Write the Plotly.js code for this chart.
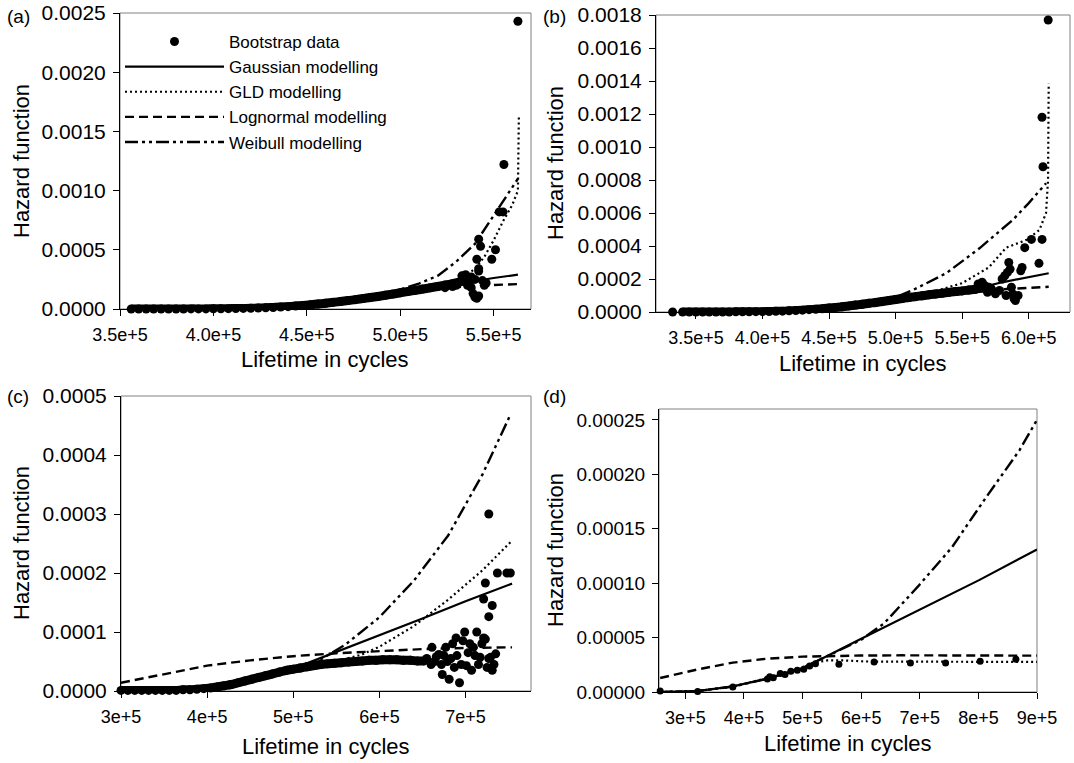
<!DOCTYPE html>
<html><head><meta charset="utf-8">
<script src="https://cdn.plot.ly/plotly-3.0.1.min.js"></script>
<style>html,body{margin:0;padding:0;background:#fff}#chart{width:1074px;height:763px}</style>
</head><body><div id="chart"></div>
<script>
const seriesNames = ["Bootstrap data","Gaussian modelling","GLD modelling","Lognormal modelling","Weibull modelling"];
const panelLabels = ["(a)","(b)","(c)","(d)"];
const xTitle = "Lifetime in cycles";
const yTitle = "Hazard function";

// ---------- Panel (a) ----------
const aBandX = [356e3,360e3,364e3,368e3,372e3,376e3,380e3,384e3,388e3,392e3,396e3,400e3,404e3,408e3,412e3,416e3,420e3,424e3,428e3,432e3,436e3,440e3,444e3,448e3,452e3,456e3,460e3,464e3,468e3,472e3,476e3,480e3,484e3,488e3,492e3,496e3,500e3,504e3,508e3,512e3,516e3,520e3,524e3,528e3,532e3];
const aBandY = [0,0,0,0,0,0,0,0,1e-6,1e-6,1e-6,2e-6,2e-6,3e-6,4e-6,5e-6,6e-6,8e-6,10e-6,13e-6,16e-6,20e-6,25e-6,30e-6,36e-6,42e-6,49e-6,56e-6,63e-6,71e-6,79e-6,88e-6,97e-6,106e-6,116e-6,126e-6,137e-6,147e-6,157e-6,168e-6,179e-6,190e-6,202e-6,214e-6,228e-6];
const aScatX = [524e3,528e3,530e3,533e3,535e3,536e3,537e3,538e3,539e3,540e3,541e3,542e3,536e3,534e3,538e3,540e3,542e3,541e3,542e3,543e3,544e3,545e3,546e3,549e3,551e3,553e3,555e3,555.5e3,563e3,542e3];
const aScatY = [180e-6,190e-6,200e-6,280e-6,290e-6,260e-6,220e-6,180e-6,130e-6,100e-6,90e-6,110e-6,200e-6,250e-6,270e-6,250e-6,320e-6,420e-6,590e-6,530e-6,240e-6,200e-6,220e-6,420e-6,500e-6,820e-6,820e-6,1220e-6,2430e-6,340e-6];
const aGaussX = [356e3,400e3,430e3,450e3,470e3,490e3,500e3,510e3,520e3,530e3,540e3,550e3,563e3];
const aGaussY = [0,2e-6,12e-6,34e-6,67e-6,111e-6,137e-6,162e-6,188e-6,215e-6,240e-6,262e-6,290e-6];
const aGldX = [356e3,400e3,430e3,450e3,470e3,490e3,500e3,510e3,520e3,530e3,535e3,540e3,545e3,550e3,555e3,560e3,563e3,563.5e3];
const aGldY = [0,2e-6,12e-6,34e-6,67e-6,112e-6,145e-6,172e-6,205e-6,245e-6,280e-6,340e-6,440e-6,580e-6,740e-6,880e-6,1000e-6,1630e-6];
const aLogX = [356e3,400e3,430e3,450e3,470e3,490e3,500e3,510e3,520e3,530e3,540e3,550e3,563e3];
const aLogY = [0,2e-6,12e-6,34e-6,67e-6,109e-6,132e-6,152e-6,170e-6,185e-6,196e-6,203e-6,210e-6];
const aWeiX = [356e3,400e3,430e3,450e3,470e3,490e3,500e3,510e3,520e3,530e3,540e3,550e3,556e3,563e3];
const aWeiY = [0,2e-6,12e-6,34e-6,68e-6,125e-6,165e-6,215e-6,280e-6,400e-6,550e-6,790e-6,930e-6,1100e-6];
const aXTickVals = [350e3,400e3,450e3,500e3,550e3];
const aXTickText = ["3.5e+5","4.0e+5","4.5e+5","5.0e+5","5.5e+5"];
const aYTickVals = [0,0.0005,0.001,0.0015,0.002,0.0025];
const aYTickText = ["0.0000","0.0005","0.0010","0.0015","0.0020","0.0025"];

// ---------- Panel (b) ----------
const bBandX = [340e3,345e3,350e3,355e3,360e3,365e3,370e3,375e3,380e3,385e3,390e3,395e3,400e3,405e3,410e3,415e3,420e3,425e3,430e3,435e3,440e3,445e3,450e3,455e3,460e3,465e3,470e3,475e3,480e3,485e3,490e3,495e3,500e3,505e3,510e3,515e3,520e3,525e3,530e3,535e3,540e3,545e3,550e3,555e3,560e3,565e3,570e3];
const bBandY = [0,0,0,0,0,0,0,0,1e-6,1e-6,1e-6,2e-6,2e-6,3e-6,4e-6,5e-6,7e-6,9e-6,11e-6,14e-6,17e-6,20e-6,24e-6,28e-6,32e-6,37e-6,42e-6,47e-6,53e-6,58e-6,64e-6,70e-6,76e-6,82e-6,88e-6,93e-6,99e-6,104e-6,109e-6,114e-6,119e-6,124e-6,128e-6,133e-6,138e-6,145e-6,150e-6];
const bScatX = [332.5e3,562e3,565e3,567e3,569e3,572e3,575e3,578e3,580e3,582e3,583e3,584e3,585e3,586e3,587e3,588e3,589e3,590e3,592e3,594e3,595e3,597e3,602e3,607.7e3,610e3,610.7e3,610e3,614.6e3];
const bScatY = [0,170e-6,180e-6,160e-6,120e-6,140e-6,110e-6,130e-6,200e-6,220e-6,100e-6,240e-6,300e-6,260e-6,150e-6,110e-6,80e-6,70e-6,100e-6,250e-6,270e-6,390e-6,440e-6,295e-6,440e-6,880e-6,1180e-6,1770e-6];
const bGaussX = [340e3,400e3,450e3,500e3,530e3,560e3,580e3,600e3,615e3];
const bGaussY = [0,2e-6,24e-6,76e-6,109e-6,140e-6,180e-6,212e-6,235e-6];
const bGldX = [340e3,400e3,450e3,500e3,525e3,550e3,570e3,583e3,598e3,608e3,613e3,614.5e3,615e3];
const bGldY = [0,2e-6,24e-6,80e-6,115e-6,175e-6,270e-6,390e-6,436e-6,497e-6,600e-6,800e-6,1385e-6];
const bLogX = [340e3,400e3,450e3,500e3,530e3,560e3,580e3,600e3,615e3];
const bLogY = [0,2e-6,24e-6,76e-6,107e-6,128e-6,138e-6,146e-6,153e-6];
const bWeiX = [340e3,400e3,450e3,480e3,498e3,513e3,538e3,563e3,588e3,600e3,613e3];
const bWeiY = [0,2e-6,24e-6,55e-6,83e-6,133e-6,235e-6,386e-6,558e-6,660e-6,780e-6];
const bXTickVals = [350e3,400e3,450e3,500e3,550e3,600e3];
const bXTickText = ["3.5e+5","4.0e+5","4.5e+5","5.0e+5","5.5e+5","6.0e+5"];
const bYTickVals = [0,0.0002,0.0004,0.0006,0.0008,0.001,0.0012,0.0014,0.0016,0.0018];
const bYTickText = ["0.0000","0.0002","0.0004","0.0006","0.0008","0.0010","0.0012","0.0014","0.0016","0.0018"];

// ---------- Panel (c) ----------
const cBandX = [300e3,308e3,316e3,324e3,332e3,340e3,348e3,356e3,364e3,372e3,380e3,388e3,396e3,404e3,412e3,420e3,428e3,436e3,444e3,452e3,460e3,468e3,476e3,484e3,492e3,500e3,508e3,516e3,524e3,532e3,540e3,548e3,556e3,564e3,572e3,580e3,588e3,596e3,604e3,612e3,620e3,628e3,636e3,644e3,652e3];
const cBandY = [1e-6,1e-6,1e-6,1e-6,1e-6,1e-6,1e-6,1e-6,1e-6,2e-6,2e-6,3e-6,4e-6,5e-6,7e-6,9e-6,11e-6,14e-6,17e-6,20e-6,23e-6,26e-6,29e-6,32e-6,35e-6,37e-6,39e-6,41e-6,43e-6,45e-6,46e-6,47e-6,48e-6,49e-6,50e-6,51e-6,52e-6,52e-6,53e-6,53e-6,53e-6,52e-6,52e-6,51e-6,51e-6];
const cScatX = [655e3,660e3,661e3,664e3,666e3,669e3,672e3,673e3,675e3,677e3,679e3,681e3,683e3,685e3,687e3,689e3,690e3,693e3,695e3,697e3,699e3,701e3,703e3,705e3,707e3,709e3,711e3,713e3,715e3,717e3,719e3,721e3,723e3,725e3,727e3,729e3,731e3,733e3,735e3,727e3,723e3,721e3,731e3,727e3,737e3,748e3,752e3];
const cScatY = [55e-6,45e-6,74e-6,50e-6,58e-6,62e-6,45e-6,28e-6,60e-6,74e-6,50e-6,20e-6,55e-6,80e-6,40e-6,90e-6,60e-6,14e-6,45e-6,85e-6,100e-6,43e-6,65e-6,80e-6,35e-6,74e-6,60e-6,100e-6,45e-6,57e-6,80e-6,90e-6,88e-6,40e-6,55e-6,57e-6,35e-6,45e-6,63e-6,300e-6,183e-6,156e-6,145e-6,126e-6,200e-6,200e-6,200e-6];
const cGaussX = [300e3,350e3,400e3,450e3,500e3,550e3,600e3,650e3,700e3,754e3];
const cGaussY = [1e-6,1e-6,5e-6,20e-6,38e-6,66e-6,95e-6,123e-6,152e-6,182e-6];
const cGldX = [300e3,400e3,450e3,500e3,550e3,580e3,600e3,640e3,680e3,720e3,754e3];
const cGldY = [1e-6,5e-6,20e-6,38e-6,50e-6,62e-6,75e-6,110e-6,155e-6,205e-6,255e-6];
const cLogX = [300e3,350e3,400e3,450e3,500e3,550e3,600e3,650e3,700e3,754e3];
const cLogY = [14e-6,29e-6,43e-6,52e-6,59e-6,64e-6,68e-6,71e-6,73e-6,74e-6];
const cWeiX = [300e3,400e3,450e3,500e3,530e3,560e3,600e3,640e3,680e3,720e3,752e3];
const cWeiY = [1e-6,5e-6,20e-6,38e-6,52e-6,78e-6,125e-6,187e-6,264e-6,368e-6,468e-6];
const cXTickVals = [300e3,400e3,500e3,600e3,700e3];
const cXTickText = ["3e+5","4e+5","5e+5","6e+5","7e+5"];
const cYTickVals = [0,0.0001,0.0002,0.0003,0.0004,0.0005];
const cYTickText = ["0.0000","0.0001","0.0002","0.0003","0.0004","0.0005"];

// ---------- Panel (d) ----------
const dDataX = [257e3,321e3,381e3,440e3,444e3,450e3,462e3,470e3,480e3,491e3,502e3,512e3,522e3,562e3,622e3,684e3,744e3,803e3,864e3];
const dDataY = [1e-6,0.5e-6,4.6e-6,12e-6,14e-6,13e-6,17e-6,16e-6,19e-6,20e-6,21e-6,24e-6,26e-6,25.5e-6,27.6e-6,26.7e-6,26.7e-6,28.2e-6,30e-6];
const dGaussX = [257e3,323e3,381e3,438e3,496e3,542e3,600e3,698e3,802e3,900e3];
const dGaussY = [0,1e-6,5.2e-6,12e-6,21e-6,33e-6,49e-6,75e-6,103e-6,131e-6];
const dGldX = [257e3,323e3,381e3,438e3,496e3,520e3,542e3,570e3,611e3,700e3,800e3,900e3];
const dGldY = [0,1e-6,5e-6,12.5e-6,22e-6,27e-6,29e-6,29e-6,28e-6,28e-6,27.7e-6,27.6e-6];
const dLogX = [257e3,323e3,381e3,438e3,500e3,553e3,600e3,670e3,800e3,900e3];
const dLogY = [12.9e-6,21e-6,27e-6,30.5e-6,32.5e-6,33.2e-6,33.5e-6,33.7e-6,33.5e-6,33.4e-6];
const dWeiX = [257e3,323e3,381e3,438e3,496e3,542e3,600e3,639e3,697e3,755e3,812e3,870e3,900e3];
const dWeiY = [0,1e-6,5e-6,12e-6,21e-6,33e-6,48e-6,63e-6,97e-6,133e-6,178e-6,222e-6,250e-6];
const dXTickVals = [300e3,400e3,500e3,600e3,700e3,800e3,900e3];
const dXTickText = ["3e+5","4e+5","5e+5","6e+5","7e+5","8e+5","9e+5"];
const dYTickVals = [0,0.00005,0.0001,0.00015,0.0002,0.00025];
const dYTickText = ["0.00000","0.00005","0.00010","0.00015","0.00020","0.00025"];

// ---------- Build ----------
const W = 1074, H = 763;
const FONT = "Liberation Sans, Arial, Helvetica, sans-serif";
const px = v => v / W;
const py = v => 1 - v / H;

const lineStyles = [
  null,
  {color:'#000', width:2.2, dash:'solid'},
  {color:'#000', width:2.2, dash:'2px,3px'},
  {color:'#000', width:2.4, dash:'9px,5px'},
  {color:'#000', width:2.4, dash:'13px,4px,3px,4px,3px,4px'}
];

const panels = [
  {xa:'x', ya:'y', band:[aBandX, aBandY], pts:[aScatX, aScatY], lines:[[aGaussX,aGaussY],[aGldX,aGldY],[aLogX,aLogY],[aWeiX,aWeiY]], legend:true, msize:9},
  {xa:'x2', ya:'y2', band:[bBandX, bBandY], pts:[bScatX, bScatY], lines:[[bGaussX,bGaussY],[bGldX,bGldY],[bLogX,bLogY],[bWeiX,bWeiY]], legend:false, msize:9},
  {xa:'x3', ya:'y3', band:[cBandX, cBandY], pts:[cScatX, cScatY], lines:[[cGaussX,cGaussY],[cGldX,cGldY],[cLogX,cLogY],[cWeiX,cWeiY]], legend:false, msize:9},
  {xa:'x4', ya:'y4', band:null, pts:[dDataX, dDataY], lines:[[dGaussX,dGaussY],[dGldX,dGldY],[dLogX,dLogY],[dWeiX,dWeiY]], legend:false, msize:7}
];

const traces = [];
panels.forEach(p => {
  p.lines.forEach((ln, i) => {
    traces.push({type:'scatter', mode:'lines', x:ln[0], y:ln[1], xaxis:p.xa, yaxis:p.ya,
      name:seriesNames[i+1], showlegend:p.legend, legendrank:i+2, line:lineStyles[i+1], cliponaxis:false, hoverinfo:'skip'});
  });
  if (p.band) {
    traces.push({type:'scatter', mode:'lines+markers', x:p.band[0], y:p.band[1], xaxis:p.xa, yaxis:p.ya,
      name:seriesNames[0], showlegend:false, line:{color:'#000', width:p.msize, shape:'spline'},
      marker:{color:'#000', size:p.msize}, cliponaxis:false, hoverinfo:'skip'});
  }
  traces.push({type:'scatter', mode:'markers', x:p.pts[0], y:p.pts[1], xaxis:p.xa, yaxis:p.ya,
    name:seriesNames[0], showlegend:p.legend, legendrank:1,
    marker:{color:'#000', size:p.msize, symbol:'circle'}, cliponaxis:false, hoverinfo:'skip'});
});

function xax(d0, d1, range, tv, tt, anchor) {
  return {domain:[px(d0), px(d1)], range:range, tickmode:'array', tickvals:tv, ticktext:tt,
    showline:true, linecolor:'#000', linewidth:1, ticks:'outside', ticklen:6, tickcolor:'#000', tickwidth:1,
    showgrid:false, zeroline:false, anchor:anchor, ticklabelstandoff:3,
    tickfont:{family:FONT, size:18, color:'#000'}, fixedrange:true};
}
function yax(t, b, range, tv, tt, anchor, fs) {
  return {domain:[py(b), py(t)], range:range, tickmode:'array', tickvals:tv, ticktext:tt,
    showline:true, linecolor:'#000', linewidth:1, ticks:'outside', ticklen:6, tickcolor:'#000', tickwidth:1,
    showgrid:false, zeroline:false, anchor:anchor, ticklabelstandoff:3,
    tickfont:{family:FONT, size:fs, color:'#000'}, fixedrange:true};
}

const boxes = [
  {x0:120, x1:531, t:13, b:309},
  {x0:656, x1:1070, t:15, b:312},
  {x0:121, x1:531, t:396, b:691},
  {x0:659, x1:1037, t:409, b:692}
];

const layout = {
  width:W, height:H, autosize:false,
  margin:{l:0, r:0, t:0, b:0, pad:0},
  paper_bgcolor:'#fff', plot_bgcolor:'#fff',
  font:{family:FONT, color:'#000', size:18},
  showlegend:true,
  xaxis:  xax(boxes[0].x0, boxes[0].x1, [350e3, 570e3], aXTickVals, aXTickText, 'y'),
  yaxis:  yax(boxes[0].t, boxes[0].b, [0, 0.0025], aYTickVals, aYTickText, 'x', 21),
  xaxis2: xax(boxes[1].x0, boxes[1].x1, [320e3, 631e3], bXTickVals, bXTickText, 'y2'),
  yaxis2: yax(boxes[1].t, boxes[1].b, [0, 0.0018], bYTickVals, bYTickText, 'x2', 21),
  xaxis3: xax(boxes[2].x0, boxes[2].x1, [300e3, 776e3], cXTickVals, cXTickText, 'y3'),
  yaxis3: yax(boxes[2].t, boxes[2].b, [0, 0.0005], cYTickVals, cYTickText, 'x3', 21),
  xaxis4: xax(boxes[3].x0, boxes[3].x1, [255e3, 900e3], dXTickVals, dXTickText, 'y4'),
  yaxis4: yax(boxes[3].t, boxes[3].b, [0, 0.00026], dYTickVals, dYTickText, 'x4', 19),
  legend:{x:px(120), y:py(24), xanchor:'left', yanchor:'top', bgcolor:'rgba(0,0,0,0)',
    font:{family:FONT, size:17, color:'#000'}, itemwidth:99, tracegroupgap:0, itemsizing:'trace', traceorder:'normal'},
  shapes: [
    {type:'rect', xref:'x domain', yref:'y domain', x0:0, x1:1, y0:0, y1:1, line:{color:'#808080', width:1}, layer:'below'},
    {type:'rect', xref:'x2 domain', yref:'y2 domain', x0:0, x1:1, y0:0, y1:1, line:{color:'#808080', width:1}, layer:'below'},
    {type:'rect', xref:'x3 domain', yref:'y3 domain', x0:0, x1:1, y0:0, y1:1, line:{color:'#808080', width:1}, layer:'below'},
    {type:'rect', xref:'x4 domain', yref:'y4 domain', x0:0, x1:1, y0:0, y1:1, line:{color:'#808080', width:1}, layer:'below'}
  ],
  annotations: []
};

const labelPos = [[5,17],[541,17],[5,396],[541,396]];
labelPos.forEach((p, i) => layout.annotations.push({xref:'paper', yref:'paper', x:px(p[0]), y:py(p[1]),
  xanchor:'left', yanchor:'middle', text:panelLabels[i], showarrow:false, font:{family:FONT, size:19, color:'#000'}}));
const yTitlePos = [[21,161],[555,163],[21,543],[555,550]];
yTitlePos.forEach(p => layout.annotations.push({xref:'paper', yref:'paper', x:px(p[0]), y:py(p[1]),
  xanchor:'center', yanchor:'middle', textangle:-90, text:yTitle, showarrow:false, font:{family:FONT, size:22, color:'#000'}}));
const xTitlePos = [[325,360],[863,363],[326,746],[848,743]];
xTitlePos.forEach(p => layout.annotations.push({xref:'paper', yref:'paper', x:px(p[0]), y:py(p[1]),
  xanchor:'center', yanchor:'middle', text:xTitle, showarrow:false, font:{family:FONT, size:22, color:'#000'}}));

Plotly.newPlot('chart', traces, layout, {displayModeBar:false, staticPlot:true});
</script>
</body></html>
